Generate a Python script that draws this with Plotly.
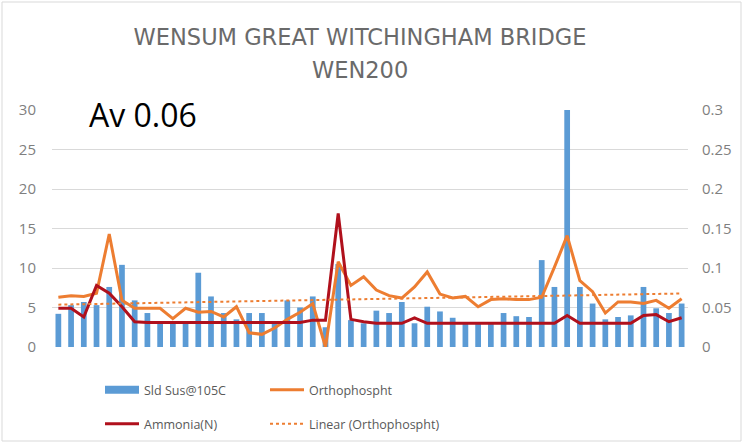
import numpy as np
import plotly.graph_objects as go

sample_no = list(range(1, 51))
sld_sus = [4.2, 5.3, 5.7, 5.3, 7.6, 10.4, 5.9, 4.3, 3.0, 3.0,
           3.0, 9.4, 6.4, 4.3, 3.5, 4.3, 4.3, 3.0, 5.9, 5.0,
           6.4, 2.5, 10.5, 3.4, 3.0, 4.6, 4.3, 5.7, 3.0, 5.1,
           4.5, 3.7, 3.0, 3.0, 3.0, 4.3, 3.9, 3.8, 11.0, 7.6,
           30.0, 7.6, 5.5, 3.5, 3.8, 4.0, 7.6, 4.9, 4.3, 5.5]
orthophos = [0.063, 0.065, 0.064, 0.068, 0.143, 0.059, 0.049, 0.049, 0.049, 0.036,
             0.049, 0.044, 0.045, 0.038, 0.051, 0.018, 0.016, 0.024, 0.035, 0.044,
             0.055, 0.0, 0.108, 0.078, 0.089, 0.072, 0.065, 0.062, 0.076, 0.095,
             0.067, 0.062, 0.064, 0.051, 0.060, 0.061, 0.060, 0.060, 0.063, 0.101,
             0.141, 0.084, 0.070, 0.043, 0.057, 0.057, 0.055, 0.059, 0.049, 0.061]
ammonia = [0.049, 0.049, 0.038, 0.078, 0.068, 0.051, 0.032, 0.031, 0.031, 0.031,
           0.031, 0.031, 0.031, 0.031, 0.031, 0.031, 0.031, 0.031, 0.031, 0.031,
           0.034, 0.034, 0.169, 0.035, 0.032, 0.030, 0.030, 0.030, 0.037, 0.030,
           0.030, 0.030, 0.030, 0.030, 0.030, 0.030, 0.030, 0.030, 0.030, 0.030,
           0.040, 0.030, 0.030, 0.030, 0.030, 0.030, 0.040, 0.041, 0.032, 0.037]
left_ticks = [0, 5, 10, 15, 20, 25, 30]
right_ticks = [0, 0.05, 0.1, 0.15, 0.2, 0.25, 0.3]
right_labels = ["0", "0.05", "0.1", "0.15", "0.2", "0.25", "0.3"]

# linear trendline of orthophosphate (computed)
coef = np.polyfit(sample_no, orthophos, 1)
trend = list(np.polyval(coef, sample_no))

GREY = "#595959"
TICKGREY = "#7F7F7F"
BLUE = "#5B9BD5"
fig = go.Figure()
fig.add_trace(go.Bar(x=sample_no, y=sld_sus, name="Sld Sus@105C",
                     marker_color=BLUE, marker_line_width=0, showlegend=False))
# legend-only proxy so the legend key is a wide bar like the original
fig.add_trace(go.Scatter(x=[None], y=[None], name="Sld Sus@105C", mode="lines",
                         line=dict(color=BLUE, width=8), legend="legend"))
fig.add_trace(go.Scatter(x=sample_no, y=orthophos, name="Orthophospht", mode="lines",
                         line=dict(color="#ED7D31", width=3), yaxis="y2", legend="legend2"))
fig.add_trace(go.Scatter(x=sample_no, y=ammonia, name="Ammonia(N)", mode="lines",
                         line=dict(color="#B0101C", width=3), yaxis="y2", legend="legend3"))
fig.add_trace(go.Scatter(x=sample_no, y=trend, name="Linear (Orthophospht)", mode="lines",
                         line=dict(color="#ED7D31", width=2, dash="dot"), yaxis="y2", legend="legend4"))

col1 = 100 / 744
col2 = 265 / 744
row1 = 1 - 375 / 444
row2 = 1 - 409 / 444
leg_common = dict(orientation="h", xanchor="left", yanchor="top",
                  xref="container", yref="container",
                  font=dict(size=12.5, color=GREY), itemwidth=34,
                  bgcolor="rgba(0,0,0,0)")

fig.update_layout(
    width=744, height=444,
    margin=dict(l=52, r=56, t=110, b=97, autoexpand=False),
    paper_bgcolor="white", plot_bgcolor="white",
    font=dict(family="Open Sans", color=GREY, size=12),
    bargap=0.55,
    title=dict(text="WENSUM GREAT WITCHINGHAM BRIDGE",
               x=360 / 744, xanchor="center", y=1 - 37 / 444, yanchor="middle",
               font=dict(family="DejaVu Sans", size=22.5, color="#6A6A6A")),
    xaxis=dict(range=[0.5, 50.5], showticklabels=False, showgrid=False,
               zeroline=False, ticks=""),
    yaxis=dict(range=[0, 30], tickvals=left_ticks, showgrid=True,
               gridcolor="#D9D9D9", gridwidth=1, zeroline=False,
               tickfont=dict(size=15, color=TICKGREY), ticks="",
               ticklabelstandoff=15),
    yaxis2=dict(range=[0, 0.3], tickvals=right_ticks, ticktext=right_labels,
                overlaying="y", side="right", showgrid=False, zeroline=False,
                tickfont=dict(size=15, color=TICKGREY), ticks="",
                ticklabelstandoff=13),
    legend=dict(x=col1, y=row1, **leg_common),
    legend2=dict(x=col2, y=row1, **leg_common),
    legend3=dict(x=col1, y=row2, **leg_common),
    legend4=dict(x=col2, y=row2, **leg_common),
    annotations=[
        dict(text="WEN200", x=(360 - 52) / 636, xref="paper", xanchor="center",
             y=(347 - 70) / 237, yref="paper", yanchor="middle", showarrow=False,
             font=dict(family="DejaVu Sans", size=22.5, color="#6A6A6A")),
        dict(text="Av 0.06", x=(87 - 52) / 636, xref="paper", xanchor="left",
             y=(347 - 114) / 237, yref="paper", yanchor="middle", showarrow=False,
             font=dict(family="Open Sans", size=32, color="black")),
    ],
    shapes=[dict(type="rect", xref="paper", yref="paper",
                 x0=(2 - 52) / 636, x1=(741 - 52) / 636,
                 y0=(347 - 441) / 237, y1=(347 - 2) / 237,
                 line=dict(color="#D9D9D9", width=1))],
)
fig.write_html("out.html", config={"displayModeBar": False},
               post_script="document.body.style.margin='0';")
